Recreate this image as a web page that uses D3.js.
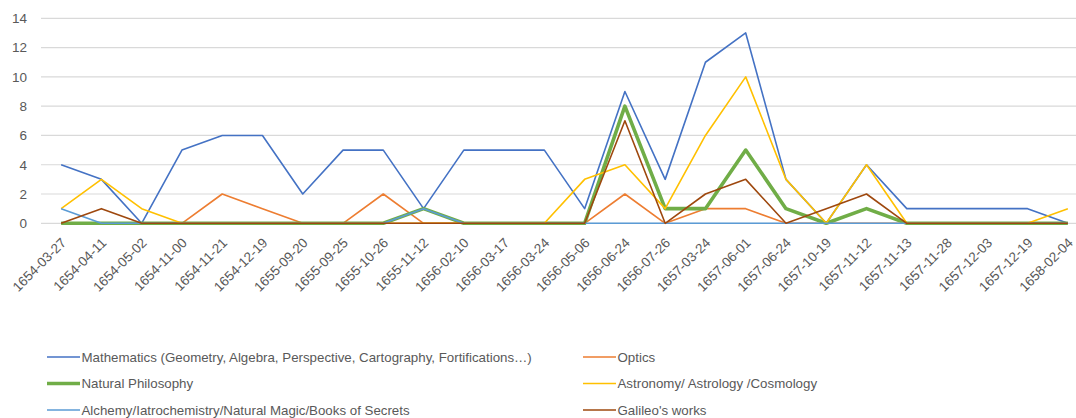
<!DOCTYPE html>
<html>
<head>
<meta charset="utf-8">
<script src="https://cdn.jsdelivr.net/npm/d3@7"></script>
<style>
  html, body { margin: 0; padding: 0; background: #fff; overflow: hidden; }
  svg { display: block; font-family: "Liberation Sans", Arial, sans-serif; }
</style>
</head>
<body>
<svg id="chart" width="1076" height="418"></svg>
<script>
const categories = ["1654-03-27","1654-04-11","1654-05-02","1654-11-00","1654-11-21","1654-12-19","1655-09-20","1655-09-25","1655-10-26","1655-11-12","1656-02-10","1656-03-17","1656-03-24","1656-05-06","1656-06-24","1656-07-26","1657-03-24","1657-06-01","1657-06-24","1657-10-19","1657-11-12","1657-11-13","1657-11-28","1657-12-03","1657-12-19","1658-02-04"];

const mathematics = [4,3,0,5,6,6,2,5,5,1,5,5,5,1,9,3,11,13,3,0,4,1,1,1,1,0];
const optics      = [0,0,0,0,2,1,0,0,2,0,0,0,0,0,2,0,1,1,0,0,0,0,0,0,0,0];
const naturalPhilosophy = [0,0,0,0,0,0,0,0,0,1,0,0,0,0,8,1,1,5,1,0,1,0,0,0,0,0];
const astronomy   = [1,3,1,0,0,0,0,0,0,0,0,0,0,3,4,1,6,10,3,0,4,0,0,0,0,1];
const alchemy     = [1,0,0,0,0,0,0,0,0,1,0,0,0,0,0,0,0,0,0,0,0,0,0,0,0,0];
const galileo     = [0,1,0,0,0,0,0,0,0,0,0,0,0,0,7,0,2,3,0,1,2,0,0,0,0,0];

const seriesNames = ["Mathematics (Geometry, Algebra, Perspective, Cartography, Fortifications…)","Optics","Natural Philosophy","Astronomy/ Astrology /Cosmology","Alchemy/Iatrochemistry/Natural Magic/Books of Secrets","Galileo's works"];
const yTicks = [0,2,4,6,8,10,12,14];

const series = [
  {name: seriesNames[0], values: mathematics, color: "#4472C4", width: 1.6},
  {name: seriesNames[1], values: optics, color: "#ED7D31", width: 1.6},
  {name: seriesNames[2], values: naturalPhilosophy, color: "#70AD47", width: 3.6},
  {name: seriesNames[3], values: astronomy, color: "#FFC000", width: 1.6},
  {name: seriesNames[4], values: alchemy, color: "#5B9BD5", width: 1.6},
  {name: seriesNames[5], values: galileo, color: "#9E480E", width: 1.6}
];

const svg = d3.select("#chart");
const plotLeft = 41, plotRight = 1088, plotTop = 18.3, plotBottom = 223.3;

const x = d3.scalePoint().domain(categories).range([plotLeft, plotRight]).padding(0.5);
const y = d3.scaleLinear().domain([0, 14]).range([plotBottom, plotTop]);

// gridlines
svg.append("g").selectAll("line").data(yTicks).join("line")
  .attr("x1", plotLeft).attr("x2", plotRight)
  .attr("y1", d => y(d)).attr("y2", d => y(d))
  .attr("stroke", "#D9D9D9").attr("stroke-width", 1.2);

// y axis labels
const yAxis = d3.axisLeft(y).tickValues(yTicks).tickSize(0).tickPadding(0);
const yg = svg.append("g").attr("transform", `translate(${27},0)`).call(yAxis);
yg.select(".domain").remove();
yg.selectAll("text").attr("font-size", 13.5).attr("fill", "#595959")
  .attr("font-family", "Liberation Sans, Arial, sans-serif");

// x axis labels
const xAxis = d3.axisBottom(x).tickSize(0).tickPadding(0);
const xg = svg.append("g").attr("transform", `translate(0,${plotBottom})`).call(xAxis);
xg.select(".domain").remove();
xg.selectAll("text")
  .attr("font-size", 13.5).attr("fill", "#595959")
  .attr("font-family", "Liberation Sans, Arial, sans-serif")
  .attr("text-anchor", "end")
  .attr("dy", "0.35em")
  .attr("transform", "translate(2,17) rotate(-45)");

// lines
const line = d3.line().x((d, i) => x(categories[i])).y(d => y(d));
svg.append("g").selectAll("path").data(series).join("path")
  .attr("d", d => line(d.values))
  .attr("fill", "none")
  .attr("stroke", d => d.color)
  .attr("stroke-width", d => d.width)
  .attr("stroke-linejoin", "round");

// legend
const legendCols = [47, 583];
const legendRows = [357, 383.5, 410];
const lg = svg.append("g").selectAll("g").data(series).join("g")
  .attr("transform", (d, i) => `translate(${legendCols[i % 2]},${legendRows[Math.floor(i / 2)]})`);
lg.append("line").attr("x1", 0).attr("x2", 33).attr("y1", 0).attr("y2", 0)
  .attr("stroke", d => d.color).attr("stroke-width", d => d.width);
lg.append("text").attr("x", 34.5).attr("y", 0).attr("dy", "0.35em")
  .attr("font-size", 13.3).attr("fill", "#595959")
  .text(d => d.name);
</script>
</body>
</html>
